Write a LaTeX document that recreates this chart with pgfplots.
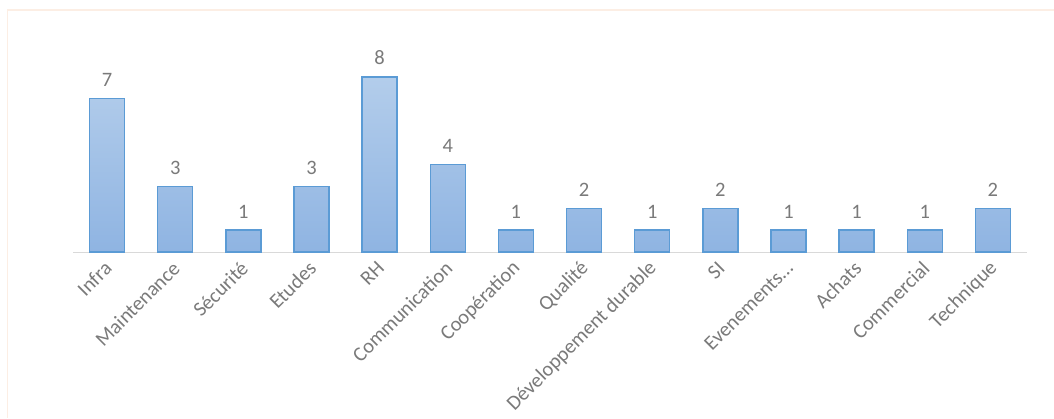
\documentclass[border=0pt]{standalone}
\usepackage{pgfplots}
\pgfplotsset{compat=1.18}
\usepackage{fontspec}
\setmainfont{Carlito}
\definecolor{txt}{HTML}{7A7A7A}
\definecolor{barline}{HTML}{5B9BD5}
\definecolor{bartop}{HTML}{B3CDEB}
\definecolor{barbot}{HTML}{8FB4E2}
\definecolor{frame}{HTML}{FCEEE4}
\begin{document}
\begin{tikzpicture}[x=1pt,y=1pt]
\useasboundingbox (0,0) rectangle (1054,418);
\fill[white] (0,0) rectangle (1054,418);
\draw[frame, line width=1.5pt] (7.5,0) -- (7.5,408) -- (1054,408);
\begin{axis}[
  at={(73pt,166pt)}, anchor=south west,
  scale only axis, width=954pt, height=197pt,
  xmin=-0.5, xmax=13.5, ymin=0, ymax=9,
  axis x line=bottom, axis y line=none,
  axis line style={draw=black!15, line width=1pt, -},
  xtick=data, ytick=\empty,
  major tick length=0pt,
  xticklabels={Infra,Maintenance,Sécurité,Etudes,RH,Communication,Coopération,Qualité,Développement durable,SI,{Evenements\ldots},Achats,Commercial,Technique},
  xticklabel style={rotate=45, anchor=east, font=\fontsize{20.5}{24}\selectfont, text=txt, xshift=-5pt, yshift=-10pt},
  nodes near coords,
  /pgf/number format/assume math mode=true,
  every node near coord/.append style={font=\fontsize{20.5}{24}\selectfont, text=txt, yshift=8pt},
  clip=false,
]
\addplot[ybar, bar width=35pt, draw=barline, line width=1.4pt, top color=bartop, bottom color=barbot]
coordinates {(0,7) (1,3) (2,1) (3,3) (4,8) (5,4) (6,1) (7,2) (8,1) (9,2) (10,1) (11,1) (12,1) (13,2)};
\end{axis}
\end{tikzpicture}
\end{document}
